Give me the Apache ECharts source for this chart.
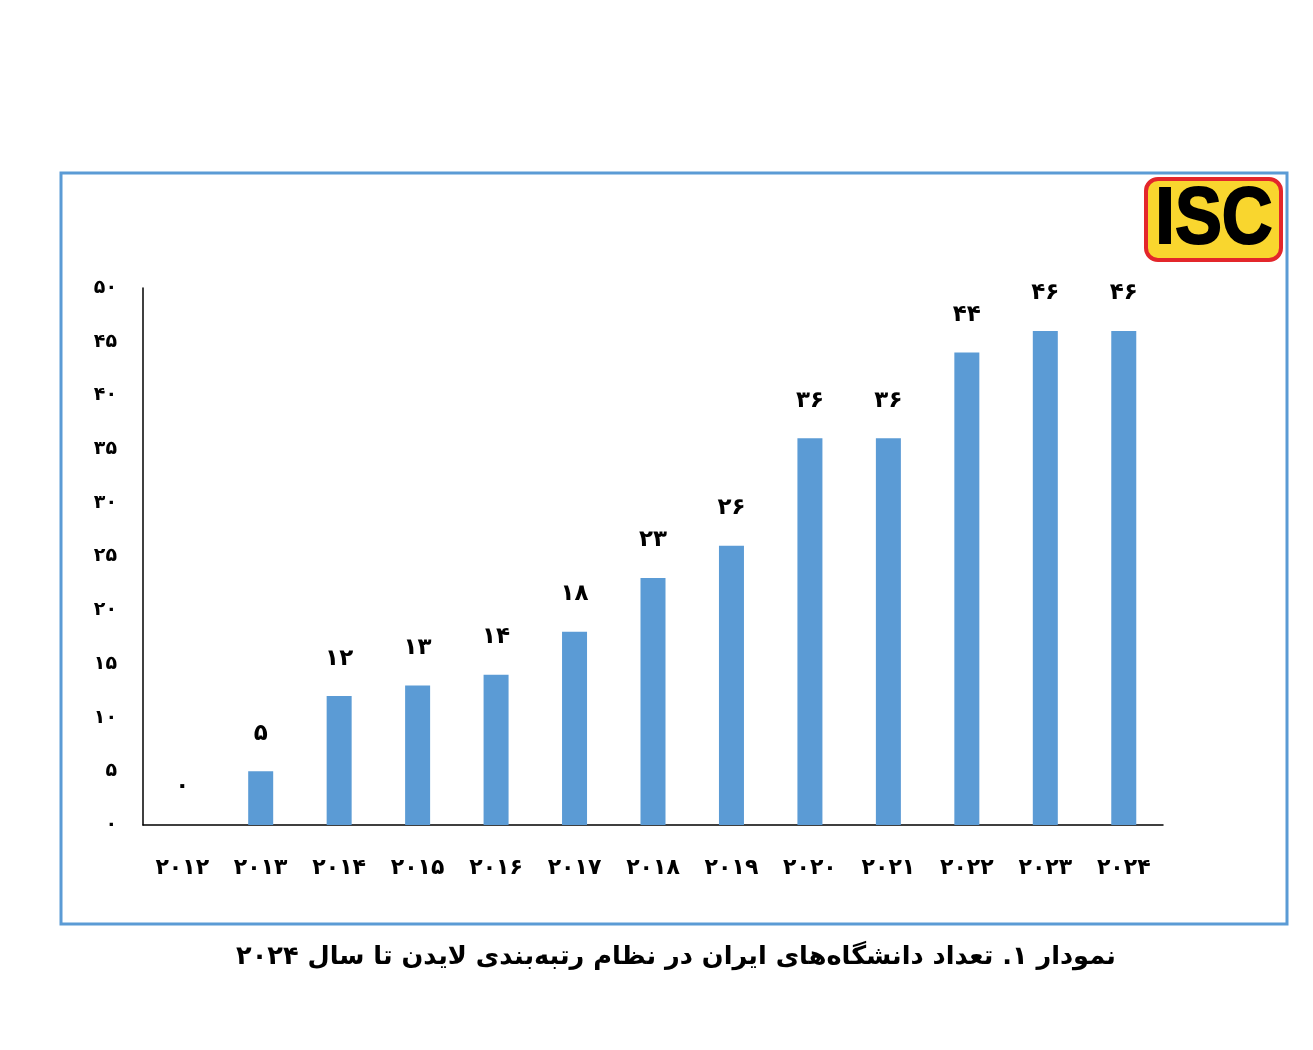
<!DOCTYPE html>
<html>
<head>
<meta charset="utf-8">
<script src="https://cdn.jsdelivr.net/npm/echarts@6/dist/echarts.min.js"></script>
<style>
  html, body { margin: 0; padding: 0; background: #fff; }
  #chart { width: 1313px; height: 1050px; }
</style>
</head>
<body>
<div id="chart"></div>
<script>
var years = ['2012', '2013', '2014', '2015', '2016', '2017', '2018', '2019', '2020', '2021', '2022', '2023', '2024'];
var counts = [0, 5, 12, 13, 14, 18, 23, 26, 36, 36, 44, 46, 46];
var yTicks = [0, 5, 10, 15, 20, 25, 30, 35, 40, 45, 50];
var caption = 'نمودار ۱. تعداد دانشگاه‌های ایران در نظام رتبه‌بندی لایدن تا سال ۲۰۲۴';

// latin digits -> persian digits
function fa(v) {
    return String(v).replace(/[0-9]/g, function (d) { return '۰۱۲۳۴۵۶۷۸۹'[+d]; });
}

var chart = echarts.init(document.getElementById('chart'));

chart.setOption({
    animation: false,
    grid: { left: 143, right: 150, top: 288, bottom: 225, containLabel: false },
    xAxis: {
        type: 'category',
        data: years,
        axisLine: { lineStyle: { color: '#000', width: 1.5 } },
        axisTick: { show: false },
        axisLabel: {
            formatter: fa,
            margin: 32,
            color: '#000',
            fontSize: 22,
            fontWeight: 'bold',
            fontFamily: 'DejaVu Sans'
        }
    },
    yAxis: {
        type: 'value',
        min: yTicks[0],
        max: yTicks[yTicks.length - 1],
        interval: 5,
        splitLine: { show: false },
        axisLine: { show: true, lineStyle: { color: '#000', width: 1.5 } },
        axisTick: { show: false },
        axisLabel: {
            formatter: fa,
            margin: 26,
            color: '#000',
            fontSize: 19,
            fontWeight: 'bold',
            fontFamily: 'DejaVu Sans'
        }
    },
    series: [{
        type: 'bar',
        data: counts,
        barWidth: 25,
        itemStyle: { color: '#5b9bd5' },
        label: {
            show: true,
            position: 'top',
            distance: 26,
            formatter: function (p) { return fa(p.value); },
            color: '#000',
            fontSize: 23,
            fontWeight: 'bold',
            fontFamily: 'DejaVu Sans'
        }
    }],
    graphic: [
        {
            type: 'rect',
            shape: { x: 61, y: 173, width: 1226, height: 751 },
            style: { fill: 'none', stroke: '#5b9bd5', lineWidth: 3 }
        },
        {
            type: 'rect',
            shape: { x: 1146, y: 179, width: 135, height: 81, r: 12 },
            style: { fill: '#f9d62e', stroke: '#e3262b', lineWidth: 4 }
        },
        {
            type: 'text',
            x: 1214, y: 221,
            scaleX: 0.88,
            style: {
                text: 'ISC',
                fill: '#000',
                stroke: '#000',
                lineWidth: 2,
                font: 'bold 80px "Liberation Sans", Arial, sans-serif',
                align: 'center',
                verticalAlign: 'middle'
            }
        },
        {
            type: 'text',
            x: 676, y: 957,
            style: {
                text: caption,
                fill: '#000',
                font: 'bold 25.6px "DejaVu Sans"',
                align: 'center',
                verticalAlign: 'middle',
                direction: 'rtl'
            }
        }
    ]
});
</script>
</body>
</html>
